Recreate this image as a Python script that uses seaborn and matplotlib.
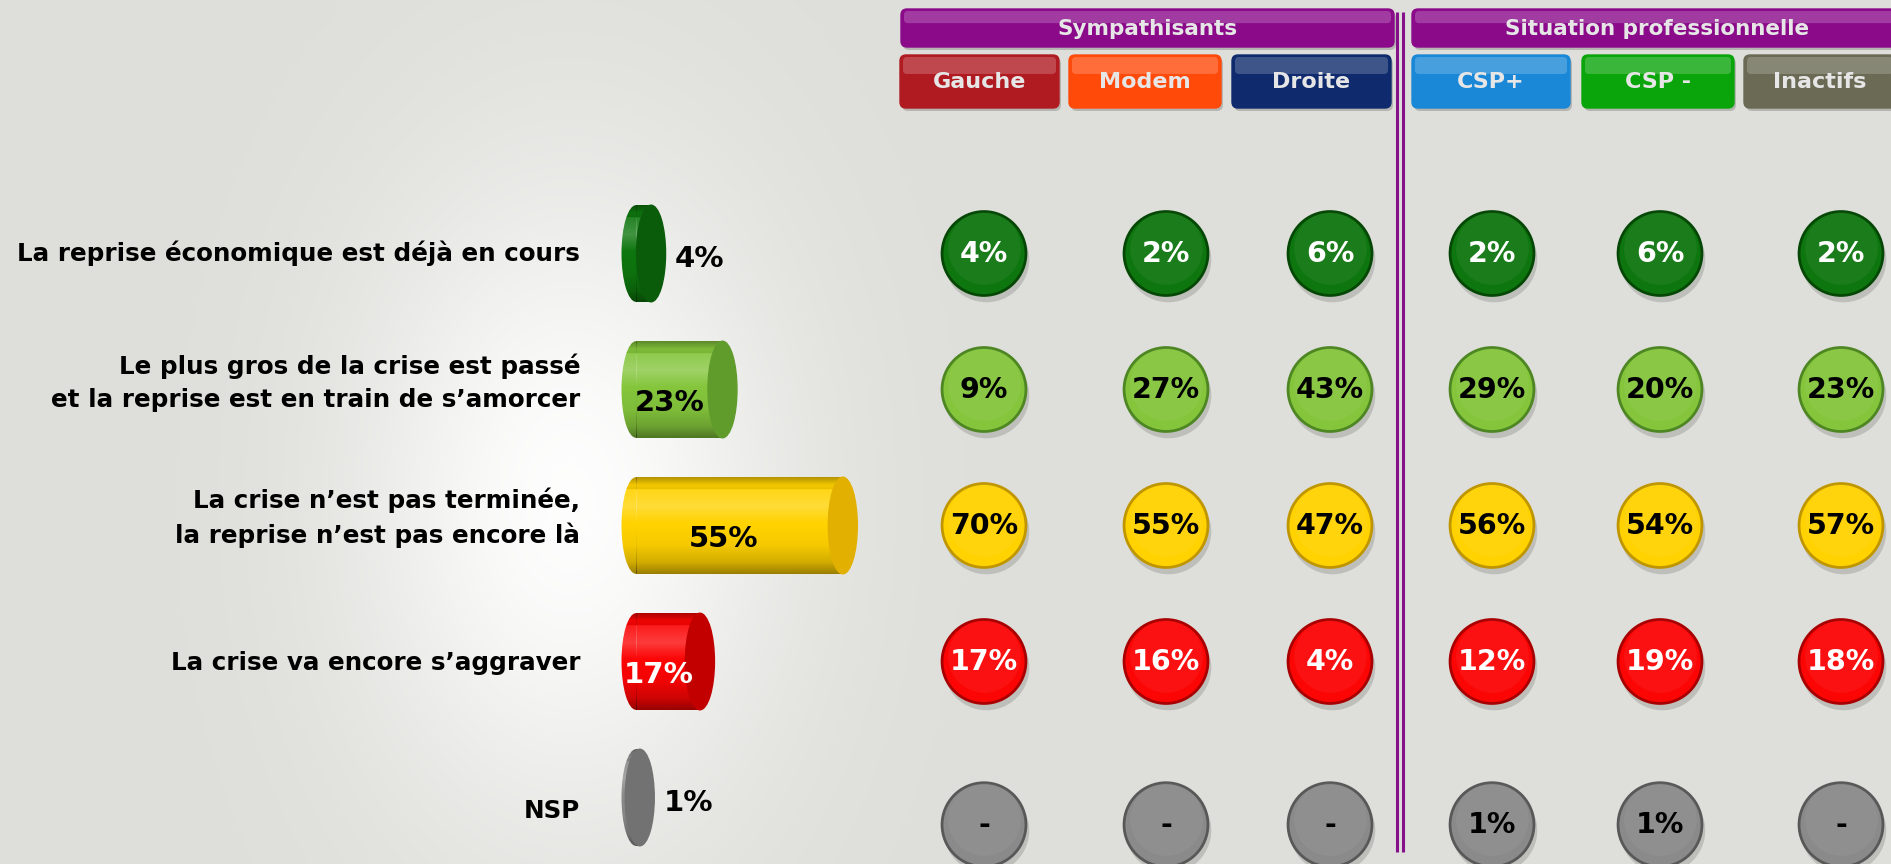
import numpy as np
import pandas as pd
import matplotlib
matplotlib.use("Agg")
import matplotlib.pyplot as plt
import seaborn as sns
from matplotlib.patches import Ellipse, FancyBboxPatch
from matplotlib import transforms

# ---------------- data ----------------
answers = [
    "La reprise économique est déjà en cours",
    "Le plus gros de la crise est passé\net la reprise est en train de s’amorcer",
    "La crise n’est pas terminée,\nla reprise n’est pas encore là",
    "La crise va encore s’aggraver",
    "NSP",
]
overall = [4, 23, 55, 17, 1]

group_titles = ["Sympathisants", "Situation professionnelle"]
subgroups = ["Gauche", "Modem", "Droite", "CSP+", "CSP -", "Inactifs"]
# one list per subgroup, in the order of `answers` (0 is shown as "-")
gauche = [4, 9, 70, 17, 0]
modem = [2, 27, 55, 16, 0]
droite = [6, 43, 47, 4, 0]
csp_plus = [2, 29, 56, 12, 1]
csp_moins = [6, 20, 54, 19, 1]
inactifs = [2, 23, 57, 18, 0]
subgroup_values = [gauche, modem, droite, csp_plus, csp_moins, inactifs]

# ---------------- style ----------------
answer_colors = ["#0e760e", "#84c53c", "#ffd200", "#fb0505", "#8a8a8a"]
cap_colors = ["#0a5c0a", "#609c2c", "#e2b000", "#c20000", "#727272"]
edge_colors = ["#054805", "#4d8622", "#c09600", "#a80000", "#585858"]
circle_text = ["white", "black", "black", "white", "black"]
bar_text = ["black", "black", "black", "white", "black"]
sub_colors = ["#b01b22", "#ff4a0a", "#0f2b6e", "#1a88d6", "#0aa50a", "#6a6a55"]
group_color = "#8a0a8a"
bg_color = np.array([222, 223, 218]) / 255.0

W, H = 1891, 864
PX_PER_PCT = 3.76      # horizontal scale of the bar panel
ZERO_PX = 636          # x pixel of the 0 % baseline
ROW0_PX = 253.5        # y pixel of the first row
ROW_PX = 136           # row pitch in pixels
BAR_H = 0.71           # bar thickness in row units
CAP_W = 29 / PX_PER_PCT  # elliptical end of the cylinders, in % units
LABEL_Y = [-0.02, 0.90, 1.89, 2.99, 4.08]  # vertical placement of the answer texts

sns.set_theme(style="white")
plt.rcParams["font.family"] = ["DejaVu Sans"]
plt.rcParams["text.color"] = "black"
plt.rcParams["ytick.color"] = "black"

fig = plt.figure(figsize=(W / 100, H / 100), dpi=100)


def fig_rect(left, top, width, height):
    return [left / W, 1 - (top + height) / H, width / W, height / H]


# ---------------- background with soft light behind the labels ----------------
bg_ax = fig.add_axes([0, 0, 1, 1], zorder=0)
yy, xx = np.mgrid[0:H, 0:W]
d = ((xx - 570) / 260.0) ** 2 + ((yy - 500) / 400.0) ** 2
glow = np.exp(-d * 1.5)
img = bg_color[None, None, :] + (1 - bg_color[None, None, :]) * glow[..., None] * 0.95
bg_ax.imshow(img, extent=(0, W, H, 0), aspect="auto")
bg_ax.set_axis_off()

# ---------------- overall results: cylinder bars ----------------
xmin, xmax = -6, 66
rmin, rmax = -0.9, 4.45
top_px = ROW0_PX + rmin * ROW_PX
height_px = (rmax - rmin) * ROW_PX
bar_ax = fig.add_axes(fig_rect(ZERO_PX + xmin * PX_PER_PCT, top_px,
                               (xmax - xmin) * PX_PER_PCT, height_px), zorder=2)
bar_ax.patch.set_alpha(0)

df = pd.DataFrame({"answer": answers, "pct": overall})
sns.barplot(data=df, x="pct", y="answer", hue="answer", palette=answer_colors,
            width=BAR_H, legend=False, saturation=1, orient="h", ax=bar_ax)

# vertical shading profile of a cylinder
t = np.linspace(0, 1, 128)
shade_rgb = np.where((t > 0.12) & (t < 0.5), 1.0, 0.0)
shade_a = np.interp(t, [0, 0.08, 0.16, 0.3, 0.48, 0.7, 0.88, 1.0],
                    [0.30, 0.05, 0.12, 0.22, 0.0, 0.04, 0.18, 0.40])
grad = np.zeros((128, 1, 4))
grad[..., 0] = shade_rgb[:, None]
grad[..., 1] = shade_rgb[:, None]
grad[..., 2] = shade_rgb[:, None]
grad[..., 3] = shade_a[:, None]

for i, patch in enumerate(list(bar_ax.patches)[:len(answers)]):
    v = patch.get_width()
    yc = patch.get_y() + patch.get_height() / 2
    patch.set_linewidth(0)
    left_cap = Ellipse((0, yc), CAP_W, BAR_H, facecolor=answer_colors[i], lw=0, zorder=2)
    bar_ax.add_patch(left_cap)
    for clip, (x0, x1) in ((patch, (0, v)), (left_cap, (-CAP_W / 2, 0))):
        im = bar_ax.imshow(grad, extent=(x0, x1, yc + BAR_H / 2, yc - BAR_H / 2),
                           aspect="auto", interpolation="bilinear", zorder=3)
        im.set_clip_path(clip)
    end_face = Ellipse((v, yc), CAP_W, BAR_H, facecolor=cap_colors[i],
                       edgecolor=cap_colors[i], lw=1.0, zorder=4)
    bar_ax.add_patch(end_face)
    if v < 10:
        bar_ax.text(v + CAP_W / 2 + 2.5, yc + 0.04, f"{v:g}%", ha="left", va="center",
                    fontsize=21, fontweight="bold", color="black", zorder=5)
    else:
        bar_ax.text(0.45 * v - 1.5, yc + 0.1, f"{v:g}%", ha="center", va="center",
                    fontsize=21, fontweight="bold", color=bar_text[i], zorder=5)

bar_ax.set_xlim(xmin, xmax)
bar_ax.set_ylim(rmax, rmin)
bar_ax.set_xlabel("")
bar_ax.set_ylabel("")
bar_ax.set_xticks([])
bar_ax.set_yticks(LABEL_Y, answers)
sns.despine(ax=bar_ax, left=True, bottom=True)
bar_ax.tick_params(axis="y", length=0, pad=24, labelsize=17.7, labelcolor="black")
for tl in bar_ax.get_yticklabels():
    tl.set_fontweight("bold")
    tl.set_linespacing(1.45)

# ---------------- breakdown by subgroup: bubbles ----------------
col_x = [984, 1166, 1330, 1492, 1660, 1841]
row_y = [0, 1, 2, 3, 4.2]

grid_ax = fig.add_axes(fig_rect(0, top_px, W, height_px), zorder=3)
grid_ax.patch.set_alpha(0)

records = []
for j, vals in enumerate(subgroup_values):
    for i, v in enumerate(vals):
        records.append({"x": col_x[j], "y": row_y[i], "answer": answers[i],
                        "pct": v, "row": i})
long = pd.DataFrame(records)

S = 3650
shadow_tr = transforms.offset_copy(grid_ax.transData, fig=fig, x=2, y=-5, units="dots")
grid_ax.scatter(long["x"], long["y"], s=S * 1.04, color="black", alpha=0.14, lw=0,
                transform=shadow_tr, clip_on=False, zorder=1)
sns.scatterplot(data=long, x="x", y="y", hue="answer",
                palette=dict(zip(answers, answer_colors)), s=S, linewidth=2,
                legend=False, ax=grid_ax, clip_on=False, zorder=2)
grid_ax.collections[-1].set_edgecolor([edge_colors[r] for r in long["row"]])
# faint gloss on the upper half
gloss_tr = transforms.offset_copy(grid_ax.transData, fig=fig, x=0, y=6, units="dots")
grid_ax.scatter(long["x"], long["y"], s=S * 0.75, color="white", alpha=0.05, lw=0,
                transform=gloss_tr, clip_on=False, zorder=3)

for _, r in long.iterrows():
    label = f"{r['pct']:g}%" if r["pct"] > 0 else "-"
    grid_ax.text(r["x"], r["y"], label, ha="center", va="center", fontsize=20.5,
                 fontweight="bold", color=circle_text[int(r["row"])], zorder=4,
                 clip_on=False)

grid_ax.set_xlim(0, W)
grid_ax.set_ylim(rmax, rmin)
grid_ax.set_axis_off()

# ---------------- column headers ----------------
deco = fig.add_axes([0, 0, 1, 1], zorder=4)
deco.patch.set_alpha(0)
deco.set_xlim(0, W)
deco.set_ylim(H, 0)
deco.set_axis_off()


def header(x, y, w, h, color, text, size):
    shadow = FancyBboxPatch((x + 2, y + 3), w, h, boxstyle="round,pad=0,rounding_size=6",
                            facecolor="black", alpha=0.18, lw=0)
    box = FancyBboxPatch((x, y), w, h, boxstyle="round,pad=0,rounding_size=6",
                         facecolor=color, edgecolor=color, lw=1)
    shine = FancyBboxPatch((x + 3, y + 2), w - 6, h * 0.32,
                           boxstyle="round,pad=0,rounding_size=4",
                           facecolor="white", alpha=0.2, lw=0)
    for p in (shadow, box, shine):
        deco.add_patch(p)
    deco.text(x + w / 2, y + h / 2 + 1, text, ha="center", va="center", fontsize=size,
              fontweight="bold", color="#e6e6e6")


group_boxes = [(901, 493), (1412, 490)]
for (gx, gw), title in zip(group_boxes, group_titles):
    header(gx, 9, gw, 38, group_color, title, 15.5)

sub_boxes = [(900, 159), (1069, 152), (1232, 159), (1412, 158), (1582, 152), (1744, 152)]
for (sx, sw), name, c in zip(sub_boxes, subgroups, sub_colors):
    header(sx, 55, sw, 53, c, name, 16)

# double rule between the two groups of columns
for lx in (1397, 1403):
    deco.plot([lx, lx], [12, 852], color="#86108a", lw=2.2, solid_capstyle="butt")

fig.savefig("out.png", dpi=100)
